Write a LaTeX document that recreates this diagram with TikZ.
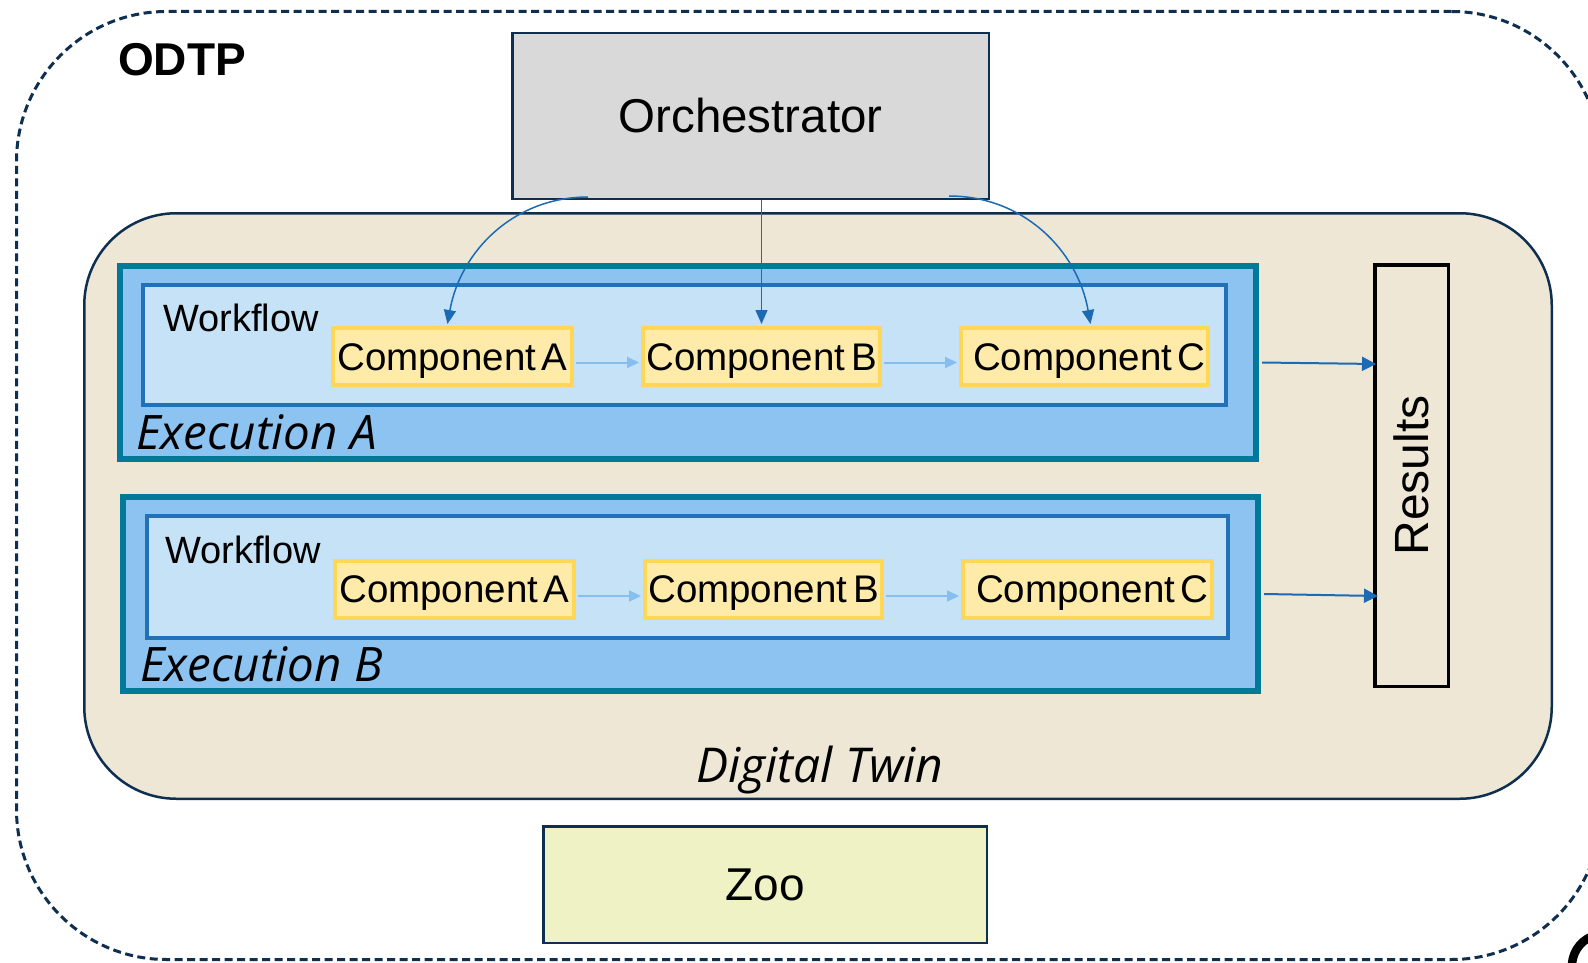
\documentclass[tikz,border=0pt]{standalone}
\usepackage{fontspec}
\setmainfont{Liberation Sans}
\newfontfamily\osans{Open Sans}
\usetikzlibrary{arrows.meta,calc}
\definecolor{navy}{HTML}{0E2F4F}
\definecolor{beige}{HTML}{EEE7D6}
\definecolor{orchfill}{HTML}{D9D9D9}
\definecolor{teal}{HTML}{007A98}
\definecolor{exfill}{HTML}{8DC3F1}
\definecolor{wfline}{HTML}{2170B8}
\definecolor{wffill}{HTML}{C5E2F7}
\definecolor{compline}{HTML}{FFD757}
\definecolor{compfill}{HTML}{FFEBA9}
\definecolor{lightarrow}{HTML}{86BFEF}
\definecolor{bluearrow}{HTML}{1B6AB3}
\definecolor{zoofill}{HTML}{EEF2C4}
\tikzset{
  box/.style={draw, rectangle, inner sep=0pt},
  outerbox/.style={box, draw=navy, line width=3pt, dash pattern=on 8pt off 4.5pt, rounded corners=150pt},
  dtbox/.style={box, draw=navy, fill=beige, line width=2.5pt, rounded corners=92pt},
  orchbox/.style={box, draw=navy, fill=orchfill, line width=2.5pt, font=\fontsize{47.5}{56}\selectfont},
  zoobox/.style={box, draw=navy, fill=zoofill, line width=2.5pt, font=\fontsize{46}{54}\selectfont},
  exbox/.style={box, draw=teal, fill=exfill, line width=6pt},
  wfbox/.style={box, draw=wfline, fill=wffill, line width=4pt},
  compbox/.style={box, draw=compline, fill=compfill, line width=4pt, minimum height=57pt,
    font=\fontsize{38.5}{44}\selectfont, text height=27pt, text depth=0pt},
  resbox/.style={box, draw=black, line width=3.5pt, font=\fontsize{48}{56}\selectfont},
  wflabel/.style={inner sep=0pt, anchor=base west, font=\fontsize{38}{44}\selectfont},
  exlabel/.style={inner sep=0pt, anchor=base west, font=\osans\itshape\fontsize{47.5}{54}\selectfont},
  flow/.style={draw=lightarrow, line width=2pt, -{Triangle[length=12pt,width=11pt]}},
  ctrl/.style={draw=bluearrow, line width=1.5pt, -{Triangle[length=14pt,width=12pt]}},
  resarrow/.style={draw=bluearrow, line width=2pt, -{Triangle[length=14pt,width=14pt]}}
}
\begin{document}
\begin{tikzpicture}[x=1pt,y=-1pt]
\useasboundingbox (0,0) rectangle (1588,963);
\clip (0,0) rectangle (1588,963);
\fill[white] (0,0) rectangle (1588,963);

% outer ODTP container
\node[outerbox, minimum width=1585pt, minimum height=948pt] (odtp) at (809,485.5) {};
\node[inner sep=0pt, anchor=base west, font=\bfseries\fontsize{46}{54}\selectfont] (odtplbl) at (118,76) {ODTP};

% partial black shape at bottom right
\draw[line width=8.5pt] (1604,966) circle (32pt);

% Digital twin
\node[dtbox, minimum width=1467.5pt, minimum height=585.5pt] (dt) at (818,506) {};
\node[inner sep=0pt, anchor=base, font=\osans\itshape\fontsize{48}{56}\selectfont] (dtl) at (820,782) {Digital Twin};

% Orchestrator
\node[orchbox, minimum width=476.5pt, minimum height=165.5pt] (orch) at (750.5,116) {Orchestrator};

% Zoo
\node[zoobox, minimum width=443.5pt, minimum height=116.5pt] (zoo) at (765,884.5) {Zoo};

% Execution A
\node[exbox, minimum width=1136pt, minimum height=193pt] (exA) at (688,362.5) {};
\node[wfbox, minimum width=1083pt, minimum height=120pt] (wfA) at (684.5,345) {};
\node[wflabel] (wfAl) at (163,331.5) {Workflow};
\node[exlabel] (exAl) at (136,449) {Execution A};
\node[compbox, minimum width=239pt] (a1) at (452.5,356.5) {Component\hspace{0.15em}A};
\node[compbox, minimum width=237pt] (b1) at (761.5,356.5) {Component\hspace{0.15em}B};
\node[compbox, minimum width=247pt] (c1) at (1084.5,356.5) {\hspace{10pt}Component\hspace{0.15em}C};

% Execution B
\node[exbox, minimum width=1135pt, minimum height=194pt] (exB) at (690.5,594) {};
\node[wfbox, minimum width=1081pt, minimum height=122pt] (wfB) at (687.5,577) {};
\node[wflabel] (wfBl) at (165,563) {Workflow};
\node[exlabel] (exBl) at (140,681) {Execution B};
\node[compbox, minimum width=239pt] (a2) at (454.5,589) {Component\hspace{0.15em}A};
\node[compbox, minimum width=237pt] (b2) at (763.5,589) {Component\hspace{0.15em}B};
\node[compbox, minimum width=249pt] (c2) at (1087.5,589) {\hspace{10pt}Component\hspace{0.15em}C};

% Results
\node[resbox, rotate=90, minimum width=421.5pt, minimum height=73.5pt] (res) at (1411.5,475.5) {Results};

% component flows
\draw[flow] ($(a1.east)+(2,6)$) -- ($(b1.west)+(-2,6)$);
\draw[flow] ($(b1.east)+(2,6)$) -- ($(c1.west)+(-2,6)$);
\draw[flow] ($(a2.east)+(2,7)$) -- ($(b2.west)+(-2,7)$);
\draw[flow] ($(b2.east)+(2,7)$) -- ($(c2.west)+(-2,7)$);

% orchestrator control arrows
\coordinate (oL) at (588,197);
\coordinate (oR) at (949,196);
\draw[ctrl] (oL) to[out=180,in=80] ($(a1.north)+(-5,-2)$);
\draw[ctrl] (b1.north |- orch.south) -- ($(b1.north)+(0,-2)$);
\draw[ctrl] (oR) to[out=0,in=100] ($(c1.north)+(6,-2)$);

% results arrows
\coordinate (rA) at (1376,364);
\coordinate (rB) at (1378,596);
\draw[resarrow] ($(exA.east)+(3,0)$) -- (rA);
\draw[resarrow] ($(exB.east)+(3,0)$) -- (rB);
\end{tikzpicture}
\end{document}
